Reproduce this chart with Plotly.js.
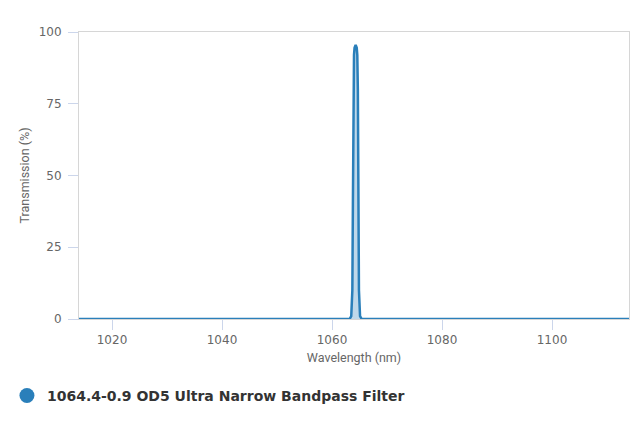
<!DOCTYPE html>
<html>
<head>
<meta charset="utf-8">
<script src="https://cdn.plot.ly/plotly-3.0.1.min.js"></script>
<style>html,body{margin:0;padding:0;background:#fff;}#chart{width:640px;height:427px;}</style>
</head>
<body>
<div id="chart"></div>
<script>
const seriesName = "1064.4-0.9 OD5 Ultra Narrow Bandpass Filter";
const wavelength = [1014, 1063.2, 1063.5, 1063.7, 1063.8, 1063.9, 1064.0, 1064.1, 1064.3, 1064.5, 1064.6, 1064.7, 1064.8, 1064.9, 1065.1, 1065.4, 1114];
const transmission = [0, 0, 1, 10, 40, 80, 92, 94.5, 95.5, 94.5, 92, 80, 40, 10, 1, 0, 0];
const xTicks = [1020, 1040, 1060, 1080, 1100];
const yTicks = [0, 25, 50, 75, 100];

const lineColor = "#2a7fba";
const traces = [
  {
    x: wavelength, y: transmission, type: "scatter", mode: "lines",
    line: {color: lineColor, width: 2.5},
    fill: "tozeroy", fillcolor: "rgba(42,127,186,0.3)",
    showlegend: false, hoverinfo: "x+y"
  },
  {
    x: [null], y: [null], type: "scatter", mode: "markers",
    marker: {color: lineColor, size: 15, symbol: "circle"},
    name: seriesName, showlegend: true
  }
];

const layout = {
  width: 640, height: 427,
  margin: {l: 79, r: 11, t: 32, b: 108, autoexpand: false},
  paper_bgcolor: "#fff", plot_bgcolor: "#fff",
  font: {family: "DejaVu Sans, sans-serif", color: "#666", size: 12},
  xaxis: {
    range: [1014, 1114], tickvals: xTicks, ticktext: xTicks.map(String),
    automargin: false,
    showgrid: false, zeroline: false,
    showline: true, mirror: true, linecolor: "#d6d6d6", linewidth: 1,
    ticks: "outside", ticklen: 10, tickcolor: "#ccd6eb", tickwidth: 1,
    tickfont: {family: "DejaVu Sans, sans-serif", size: 12, color: "#666"},
    title: {text: "Wavelength (nm)", font: {family: "Roboto, sans-serif", size: 12.5, color: "#666"}, standoff: 6}
  },
  yaxis: {
    range: [0, 100], tickvals: yTicks, ticktext: yTicks.map(String),
    automargin: false,
    showgrid: false, zeroline: false,
    showline: true, mirror: true, linecolor: "#d6d6d6", linewidth: 1,
    ticks: "outside", ticklen: 10, tickcolor: "#ccd6eb", tickwidth: 1,
    ticklabelstandoff: 4,
    tickfont: {family: "DejaVu Sans, sans-serif", size: 12, color: "#666"},
    title: {text: "Transmission (%)", font: {family: "Roboto, sans-serif", size: 12.5, color: "#666"}, standoff: 6}
  },
  showlegend: true,
  legend: {
    orientation: "h", x: -0.131, xanchor: "left", y: -0.268, yanchor: "middle",
    font: {family: "DejaVu Sans, sans-serif", size: 14, color: "#333", weight: "bold"},
    itemsizing: "trace", bgcolor: "rgba(0,0,0,0)"
  }
};

Plotly.newPlot("chart", traces, layout, {displayModeBar: false, staticPlot: true});
</script>
</body>
</html>
